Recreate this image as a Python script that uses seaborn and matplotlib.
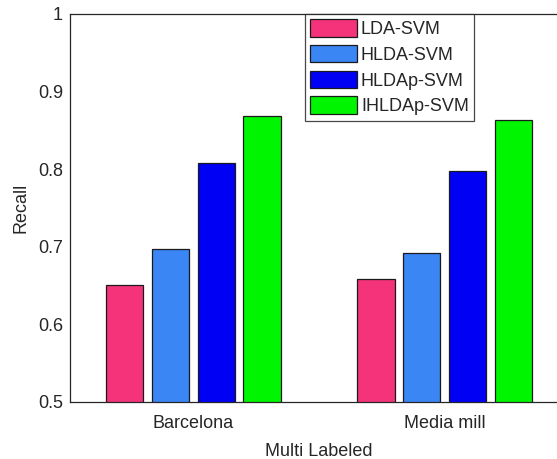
import matplotlib
matplotlib.use("Agg")
import matplotlib.pyplot as plt
import seaborn as sns
import pandas as pd

datasets = ["Barcelona", "Media mill"]
methods = ["LDA-SVM", "HLDA-SVM", "HLDAp-SVM", "IHLDAp-SVM"]
lda_svm = [0.651, 0.659]
hlda_svm = [0.697, 0.692]
hldap_svm = [0.808, 0.798]
ihldap_svm = [0.869, 0.864]
colors = ["#F5337A", "#3A86F5", "#0000F5", "#00F500"]

rows = []
for m, vals in zip(methods, [lda_svm, hlda_svm, hldap_svm, ihldap_svm]):
    for d, v in zip(datasets, vals):
        rows.append({"dataset": d, "method": m, "recall": v})
df = pd.DataFrame(rows)

sns.set_style("white")
plt.rcParams["font.family"] = ["Liberation Sans", "DejaVu Sans"]
fig = plt.figure(figsize=(5.57, 4.59), dpi=100)
W, H = 557, 459
ax = fig.add_axes([70 / W, (H - 402) / H, 498 / W, 388 / H])

sns.barplot(data=df, x="dataset", y="recall", hue="method", hue_order=methods,
            palette=colors, width=0.729, gap=0.19, edgecolor="#1a1a1a",
            linewidth=0.9, saturation=1, errorbar=None, ax=ax)

ax.set_xlim(-0.49, 1.49)
ax.set_ylim(0.5, 1.0)
ax.set_yticks([0.5, 0.6, 0.7, 0.8, 0.9, 1.0])
ax.set_yticklabels(["0.5", "0.6", "0.7", "0.8", "0.9", "1"])
tc = "#262626"
ax.tick_params(axis="both", direction="in", length=4, width=0.8, colors=tc,
               labelsize=13, labelcolor=tc)
ax.tick_params(axis="x", pad=9)
ax.tick_params(axis="y", pad=5)
for s in ax.spines.values():
    s.set_color(tc)
    s.set_linewidth(0.9)
ax.set_xlabel("Multi Labeled", fontsize=13, color=tc, labelpad=8)
ax.set_ylabel("Recall", fontsize=13, color=tc, labelpad=6)

leg = ax.legend(loc="upper left", bbox_to_anchor=(235 / 498, 1.0),
                fontsize=13, frameon=True, fancybox=False, edgecolor="#1a1a1a",
                handlelength=2.6, handleheight=1.1, handletextpad=0.2,
                borderpad=0.3, labelspacing=0.38, borderaxespad=0)
leg.get_frame().set_linewidth(0.9)
for t in leg.get_texts():
    t.set_color(tc)

fig.savefig("out.png", dpi=100)
